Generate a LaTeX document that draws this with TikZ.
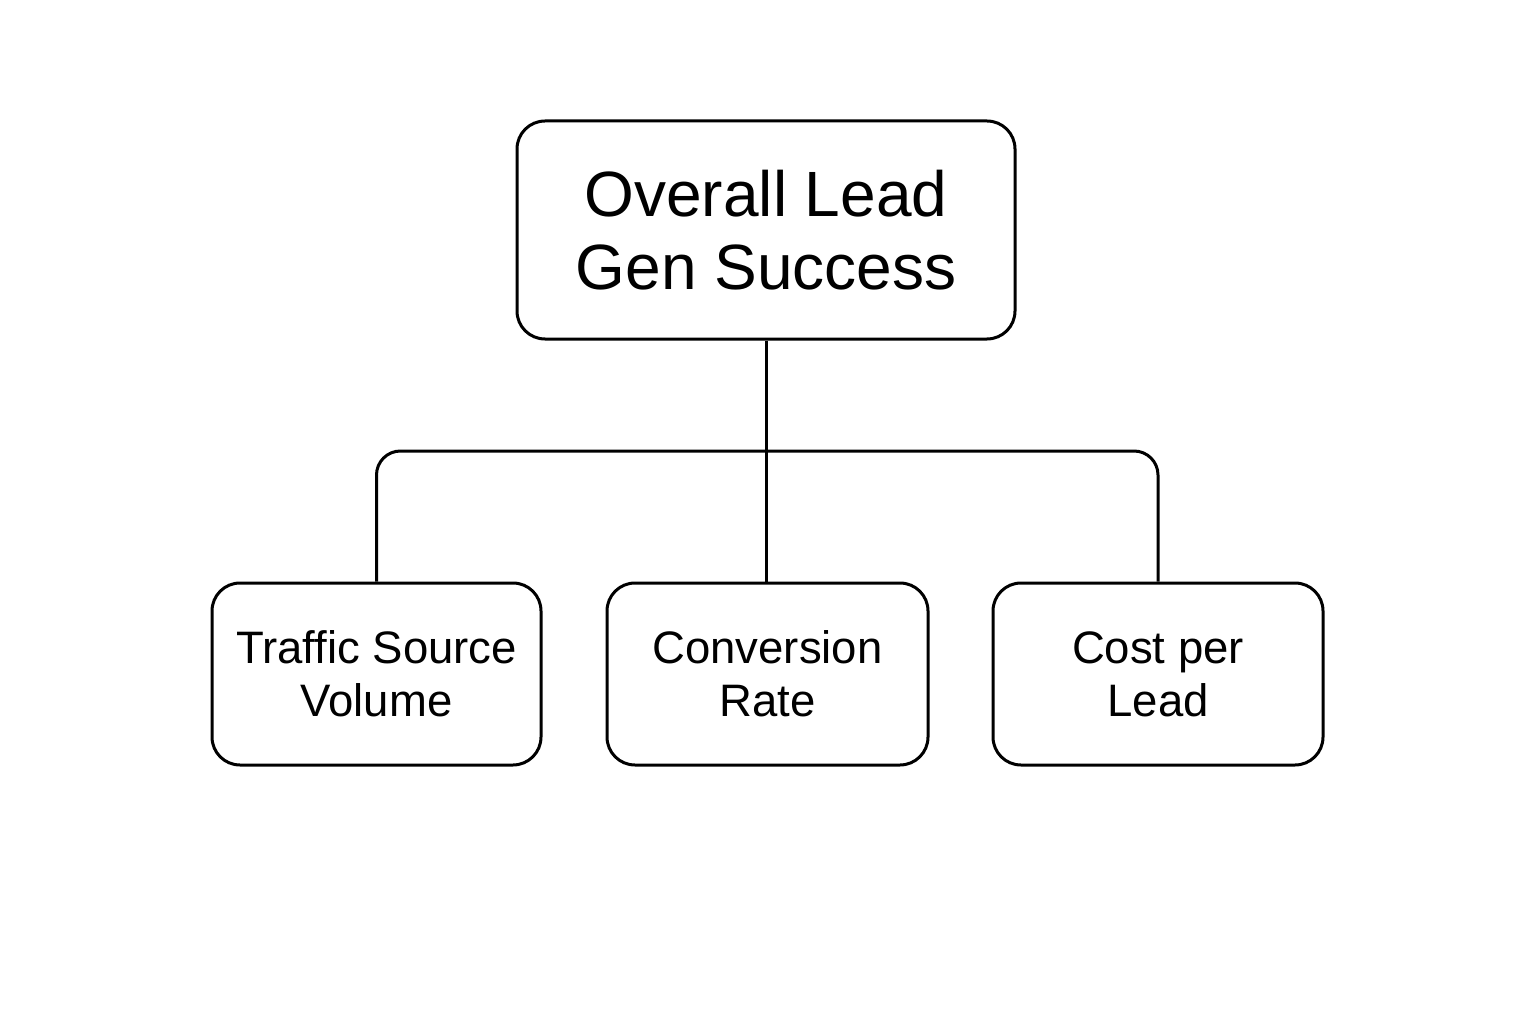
\documentclass[tikz,border=0pt]{standalone}
\usepackage{fontspec}
\setmainfont{Liberation Sans}
\begin{document}
\begin{tikzpicture}[x=1pt,y=-1pt,
  box/.style={draw,line width=3pt,rounded corners=28pt,align=center,inner sep=0pt},
  small/.style={font=\fontsize{45.5}{53}\selectfont},
  link/.style={line width=3pt}]
\useasboundingbox (0,0) rectangle (1536,1024);
\node[box,minimum width=498pt,minimum height=218pt,font=\fontsize{64}{73}\selectfont] (top) at (766,230) {Overall Lead\\Gen Success};
\node[box,small,minimum width=329pt,minimum height=182pt] (b1) at (376.5,674) {Traffic Source\\Volume};
\node[box,small,minimum width=321pt,minimum height=182pt] (b2) at (767.5,674) {Conversion\\Rate};
\node[box,small,minimum width=330pt,minimum height=182pt] (b3) at (1158,674) {Cost per\\Lead};
\coordinate (j) at (766,451);
\draw[link] (top.south) -- (top.south |- b2.north);
\draw[link,rounded corners=24pt] (b1.north) |- (j) -| (b3.north);
\end{tikzpicture}
\end{document}
